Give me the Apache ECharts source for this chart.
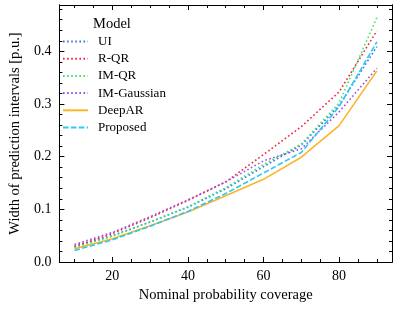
<!DOCTYPE html>
<html>
<head>
<meta charset="utf-8">
<script src="https://cdn.jsdelivr.net/npm/echarts@6/dist/echarts.min.js"></script>
<style>html,body{margin:0;padding:0;background:#fff}#c{width:399px;height:309px}</style>
</head>
<body>
<div id="c"></div>
<script>
const coverage = [10, 20, 30, 40, 50, 60, 70, 80, 90];
const ui         = [0.030, 0.050, 0.076, 0.104, 0.139, 0.181, 0.222, 0.297, 0.409];
const rqr        = [0.029, 0.054, 0.084, 0.117, 0.152, 0.204, 0.257, 0.323, 0.439];
const imqr       = [0.027, 0.049, 0.076, 0.105, 0.141, 0.185, 0.224, 0.302, 0.464];
const imgauss    = [0.033, 0.056, 0.086, 0.118, 0.152, 0.192, 0.215, 0.285, 0.368];
const deepar     = [0.025, 0.044, 0.069, 0.095, 0.126, 0.157, 0.199, 0.259, 0.363];
const proposed   = [0.022, 0.042, 0.068, 0.096, 0.130, 0.169, 0.208, 0.295, 0.418];
const seriesNames = ['UI', 'R-QR', 'IM-QR', 'IM-Gaussian', 'DeepAR', 'Proposed'];
const xMajor = [20, 40, 60, 80];
const xMinor = [10, 15, 25, 30, 35, 45, 50, 55, 65, 70, 75, 85, 90];
const yMajor = [0, 0.1, 0.2, 0.3, 0.4];
const yMinor = [0.02,0.04,0.06,0.08,0.12,0.14,0.16,0.18,0.22,0.24,0.26,0.28,0.32,0.34,0.36,0.38,0.42,0.44,0.46,0.48];

const FONT = '"Liberation Serif", "DejaVu Serif", serif';
const XMIN = 6, XMAX = 94, YMIN = 0, YMAX = 0.488;

function xAx(pos, vals, len, labels) {
  return {
    type: 'value', position: pos, min: XMIN, max: XMAX, gridIndex: 0,
    axisLine: { show: true, onZero: false, lineStyle: { color: '#000', width: 1 } },
    axisTick: { show: true, inside: true, length: len, customValues: vals, lineStyle: { color: '#000', width: 1 } },
    axisLabel: labels ? { show: true, customValues: vals, margin: 7, color: '#000', fontFamily: FONT, fontSize: 14 } : { show: false },
    splitLine: { show: false },
    name: labels ? 'Nominal probability coverage' : '',
    nameLocation: 'middle', nameGap: 26,
    nameTextStyle: { color: '#000', fontFamily: FONT, fontSize: 14.5 }
  };
}
function yAx(pos, vals, len, labels) {
  return {
    type: 'value', position: pos, min: YMIN, max: YMAX, gridIndex: 0,
    axisLine: { show: true, onZero: false, lineStyle: { color: '#000', width: 1 } },
    axisTick: { show: true, inside: true, length: len, customValues: vals, lineStyle: { color: '#000', width: 1 } },
    axisLabel: labels ? { show: true, customValues: vals, margin: 8, color: '#000', fontFamily: FONT, fontSize: 14,
      formatter: v => v.toFixed(1) } : { show: false },
    splitLine: { show: false },
    name: labels ? 'Width of prediction intervals [p.u.]' : '',
    nameLocation: 'middle', nameGap: 35,
    nameTextStyle: { color: '#000', fontFamily: FONT, fontSize: 14.5 }
  };
}

const dot = [1.6, 2.5];
const dash = [5.5, 2.4];
const styles = [
  { color: '#3b6ff2', type: dot },
  { color: '#f4233a', type: dot },
  { color: '#3ee86a', type: dot },
  { color: '#9a4ee6', type: dot },
  { color: '#fbb52a', type: 'solid' },
  { color: '#29c8f5', type: dash }
];
const values = [ui, rqr, imqr, imgauss, deepar, proposed];

const chart = echarts.init(document.getElementById('c'), null, { renderer: 'canvas' });
chart.setOption({
  animation: false,
  backgroundColor: '#fff',
  grid: { left: 52, right: 7, top: 5, bottom: 47, containLabel: false },
  title: { text: 'Model', left: 93, top: 17, padding: 0,
    textStyle: { fontFamily: FONT, fontSize: 14.5, fontWeight: 'normal', color: '#000' } },
  legend: {
    orient: 'vertical', left: 62, top: 35, padding: 0,
    itemWidth: 25, itemHeight: 13, itemGap: 4.2,
    data: seriesNames,
    itemStyle: { opacity: 0 },
    textStyle: { fontFamily: FONT, fontSize: 13, color: '#000', padding: [0, 0, 0, 5] }
  },
  xAxis: [
    xAx('bottom', xMajor, 5, true),
    xAx('bottom', xMinor, 3, false),
    xAx('top', xMajor, 5, false),
    xAx('top', xMinor, 3, false)
  ],
  yAxis: [
    yAx('left', yMajor, 5, true),
    yAx('left', yMinor, 3, false),
    yAx('right', yMajor, 5, false),
    yAx('right', yMinor, 3, false)
  ],
  series: seriesNames.map((n, i) => ({
    name: n, type: 'line', xAxisIndex: 0, yAxisIndex: 0,
    data: coverage.map((x, j) => [x, values[i][j]]),
    symbol: 'none', smooth: false,
    color: styles[i].color,
    lineStyle: { color: styles[i].color, width: 1.6, type: styles[i].type, cap: 'butt' },
    z: 2 + i
  }))
});
</script>
</body>
</html>
